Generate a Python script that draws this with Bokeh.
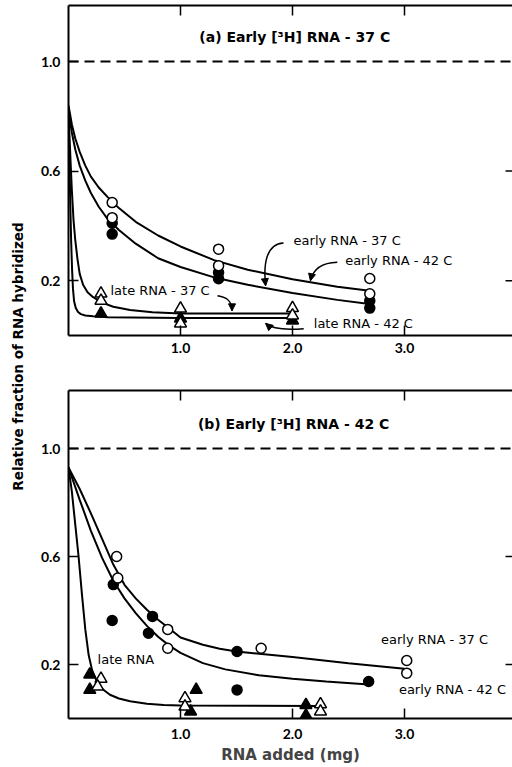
import math
from bokeh.plotting import figure
from bokeh.layouts import row, column
from bokeh.models import (Range1d, LinearAxis, FixedTicker, PrintfTickFormatter,
                          Span, Label, Arrow, NormalHead)
from bokeh.embed import file_html
from bokeh.resources import INLINE

TICK_FONT = "Lato"
FONT = "DejaVu Sans"

# ---------------- data: panel (a) ----------------
a_open_circle_x = [0.39, 0.39, 1.34, 1.34, 2.69, 2.69]
a_open_circle_y = [0.485, 0.43, 0.315, 0.255, 0.208, 0.152]
a_fill_circle_x = [0.39, 0.39, 1.34, 1.34, 2.69, 2.69]
a_fill_circle_y = [0.41, 0.37, 0.23, 0.207, 0.127, 0.10]
a_open_tri_x = [0.29, 0.29, 1.0, 1.0, 2.0, 2.0]
a_open_tri_y = [0.153, 0.127, 0.098, 0.044, 0.10, 0.073]
a_fill_tri_x = [0.29, 1.0, 2.0]
a_fill_tri_y = [0.08, 0.062, 0.055]

a_early37_x = [0.0, 0.03, 0.06, 0.1, 0.15, 0.2, 0.27, 0.35, 0.45, 0.6, 0.8, 1.0, 1.3, 1.6, 2.0, 2.4, 2.67]
a_early37_y = [0.84, 0.77, 0.72, 0.67, 0.62, 0.58, 0.54, 0.505, 0.465, 0.415, 0.365, 0.325, 0.275, 0.24, 0.205, 0.178, 0.164]
a_early42_x = [0.0, 0.03, 0.06, 0.1, 0.15, 0.2, 0.27, 0.35, 0.45, 0.6, 0.8, 1.0, 1.3, 1.6, 2.0, 2.4, 2.67]
a_early42_y = [0.82, 0.74, 0.68, 0.62, 0.565, 0.52, 0.47, 0.425, 0.385, 0.335, 0.282, 0.25, 0.212, 0.185, 0.155, 0.13, 0.116]
a_late37_x = [0.0, 0.01, 0.02, 0.03, 0.045, 0.06, 0.08, 0.1, 0.13, 0.17, 0.22, 0.3, 0.4, 0.55, 0.75, 1.0, 2.0]
a_late37_y = [0.80, 0.72, 0.62, 0.53, 0.42, 0.35, 0.28, 0.225, 0.185, 0.158, 0.14, 0.12, 0.105, 0.093, 0.085, 0.08, 0.08]
a_late42_x = [0.0, 0.008, 0.016, 0.024, 0.032, 0.04, 0.05, 0.065, 0.085, 0.11, 0.15, 0.22, 0.35, 1.0, 2.0]
a_late42_y = [0.78, 0.64, 0.48, 0.34, 0.24, 0.17, 0.125, 0.10, 0.086, 0.078, 0.073, 0.07, 0.067, 0.064, 0.064]

# ---------------- data: panel (b) ----------------
b_open_circle_x = [0.43, 0.44, 0.886, 0.886, 1.72, 3.02, 3.02]
b_open_circle_y = [0.60, 0.52, 0.33, 0.26, 0.26, 0.215, 0.168]
b_fill_circle_x = [0.40, 0.39, 0.75, 0.714, 1.505, 1.505, 2.68]
b_fill_circle_y = [0.496, 0.363, 0.378, 0.316, 0.248, 0.106, 0.137]
b_open_tri_x = [0.29, 0.26, 1.04, 1.04, 2.25, 2.25]
b_open_tri_y = [0.147, 0.118, 0.075, 0.044, 0.053, 0.026]
b_fill_tri_x = [0.19, 0.19, 1.14, 1.09, 2.12, 2.12]
b_fill_tri_y = [0.163, 0.106, 0.106, 0.026, 0.05, 0.011]

b_early37_x = [0.0, 0.1, 0.2, 0.3, 0.4, 0.5, 0.6, 0.7, 0.8, 0.9, 1.0, 1.2, 1.35, 1.5, 2.0, 2.5, 3.0]
b_early37_y = [0.93, 0.85, 0.76, 0.665, 0.57, 0.495, 0.445, 0.403, 0.366, 0.333, 0.30, 0.273, 0.258, 0.248, 0.228, 0.205, 0.184]
b_early42_x = [0.0, 0.1, 0.2, 0.3, 0.4, 0.5, 0.6, 0.7, 0.8, 0.9, 1.0, 1.2, 1.4, 1.7, 2.0, 2.3, 2.65]
b_early42_y = [0.93, 0.81, 0.695, 0.595, 0.51, 0.445, 0.39, 0.343, 0.303, 0.27, 0.243, 0.205, 0.182, 0.16, 0.147, 0.137, 0.127]
b_late_x = [0.0, 0.03, 0.06, 0.09, 0.12, 0.15, 0.18, 0.21, 0.25, 0.3, 0.37, 0.45, 0.55, 0.7, 0.85, 1.0, 2.26]
b_late_y = [0.93, 0.84, 0.72, 0.60, 0.46, 0.33, 0.235, 0.18, 0.14, 0.11, 0.088, 0.074, 0.064, 0.055, 0.05, 0.048, 0.046]

x_ticks = [1.0, 2.0, 3.0]
y_ticks = [0.2, 0.6, 1.0]
right_ticks = [0.2, 0.6]

# annotation texts / anchors (data units)
a_title = "(a) Early [\u00b3H] RNA - 37 C"
b_title = "(b) Early [\u00b3H] RNA - 42 C"
a_labels = [("early RNA - 37 C", 2.01, 0.347), ("early RNA - 42 C", 2.47, 0.274),
            ("late RNA - 37 C", 0.375, 0.164), ("late RNA - 42 C", 2.19, 0.044)]
b_labels = [("early RNA - 37 C", 2.79, 0.293), ("early RNA - 42 C", 2.95, 0.107),
            ("late RNA", 0.26, 0.219)]
# curved pointer arrows: start, control1, control2, tip
a_arrows = [((1.92, 0.338), (1.76, 0.335), (1.74, 0.255), (1.76, 0.182)),
            ((2.40, 0.267), (2.24, 0.265), (2.18, 0.235), (2.16, 0.20)),
            ((1.33, 0.145), (1.43, 0.14), (1.46, 0.12), (1.46, 0.09)),
            ((2.10, 0.025), (1.90, 0.018), (1.80, 0.03), (1.76, 0.044))]

PX_X = 112.0          # pixels per x unit (style constant)
XMAX = 444 / PX_X


def make_panel(height, frame_h, px_y, border_bottom, label_standoff, xlabel=None):
    ymax = frame_h / px_y
    p = figure(width=476, height=height, output_backend="svg", toolbar_location=None,
               x_range=Range1d(0, XMAX), y_range=Range1d(0, ymax),
               x_axis_location=None, y_axis_location=None,
               min_border_left=32, min_border_right=0, min_border_top=5,
               min_border_bottom=border_bottom)
    p.grid.visible = False
    p.outline_line_color = None
    p.background_fill_color = "white"

    def style(ax, ticks, tick_in=10):
        ax.ticker = FixedTicker(ticks=ticks)
        ax.formatter = PrintfTickFormatter(format="%.1f")
        ax.major_tick_out = 0
        ax.major_tick_in = tick_in
        ax.minor_tick_line_color = None
        ax.major_tick_line_color = "black"
        ax.major_tick_line_width = 1.5
        ax.axis_line_width = 2
        ax.axis_line_color = "black"
        ax.major_label_text_font = TICK_FONT
        ax.major_label_text_font_style = "bold"
        ax.major_label_text_font_size = "14px"
        ax.major_label_text_color = "black"

    left = LinearAxis()
    style(left, y_ticks)
    left.major_label_standoff = 8
    p.add_layout(left, "left")
    bottom = LinearAxis()
    style(bottom, x_ticks)
    bottom.major_label_standoff = label_standoff
    if xlabel:
        bottom.axis_label = xlabel
        bottom.axis_label_text_font = FONT
        bottom.axis_label_text_font_style = "bold"
        bottom.axis_label_text_font_size = "15px"
        bottom.axis_label_standoff = 4
    p.add_layout(bottom, "below")

    # top border line (no ticks/labels on the axis itself)
    top = LinearAxis(ticker=FixedTicker(ticks=[]), axis_line_width=2, axis_line_color="black",
                     major_tick_out=0, major_tick_in=0, minor_tick_out=0, minor_tick_in=0,
                     major_label_standoff=0)
    p.add_layout(top, "above")
    # inward tick marks along the top and right edges
    p.segment(x0=x_ticks, y0=[ymax] * len(x_ticks), x1=x_ticks,
              y1=[ymax - 10 / px_y] * len(x_ticks), line_color="black", line_width=1.5)
    p.segment(x0=[XMAX] * len(right_ticks), y0=right_ticks, x1=[XMAX - 7 / PX_X] * len(right_ticks),
              y1=right_ticks, line_color="black", line_width=1.5)

    p.add_layout(Span(location=1.0, dimension="width", line_color="black",
                      line_width=2, line_dash="10 6"))
    return p


def add_markers(p, ocx, ocy, fcx, fcy, otx, oty, ftx, fty):
    p.scatter(fcx, fcy, marker="circle", size=10, fill_color="black", line_color="black", line_width=1.5)
    p.scatter(ocx, ocy, marker="circle", size=10, fill_color="white", line_color="black", line_width=1.5)
    p.scatter(ftx, fty, marker="triangle", size=12, fill_color="black", line_color="black", line_width=1.5)
    p.scatter(otx, oty, marker="triangle", size=12, fill_color="white", line_color="black", line_width=1.5)


def add_text(p, txt, x, y, bold=False, size="13px", align="left"):
    p.add_layout(Label(x=x, y=y, text=txt, text_font=FONT, text_font_size=size,
                       text_font_style="bold" if bold else "normal",
                       text_align=align, text_baseline="middle", text_color="black"))


# ---------------- panel (a) ----------------
p1 = make_panel(385, 330, 274.0, 50, 7)
for xs, ys in [(a_early37_x, a_early37_y), (a_early42_x, a_early42_y),
               (a_late37_x, a_late37_y), (a_late42_x, a_late42_y)]:
    p1.line(xs, ys, line_color="black", line_width=2)
add_markers(p1, a_open_circle_x, a_open_circle_y, a_fill_circle_x, a_fill_circle_y,
            a_open_tri_x, a_open_tri_y, a_fill_tri_x, a_fill_tri_y)
add_text(p1, a_title, 2.02, 1.091, bold=True, size="14px", align="center")
for t, x, y in a_labels:
    add_text(p1, t, x, y)
for (s, c0, c1, e) in a_arrows:
    p1.bezier(x0=[s[0]], y0=[s[1]], x1=[e[0]], y1=[e[1]], cx0=[c0[0]], cy0=[c0[1]],
              cx1=[c1[0]], cy1=[c1[1]], line_color="black", line_width=1.5)
    p1.add_layout(Arrow(x_start=c1[0] + (e[0] - c1[0]) * 0.6, y_start=c1[1] + (e[1] - c1[1]) * 0.6,
                        x_end=e[0], y_end=e[1], line_alpha=0,
                        end=NormalHead(size=7, fill_color="black", line_color="black")))

# ---------------- panel (b) ----------------
p2 = make_panel(382, 328, 270.0, 49, 10, xlabel="RNA added (mg)")
for xs, ys in [(b_early37_x, b_early37_y), (b_early42_x, b_early42_y), (b_late_x, b_late_y)]:
    p2.line(xs, ys, line_color="black", line_width=2)
add_markers(p2, b_open_circle_x, b_open_circle_y, b_fill_circle_x, b_fill_circle_y,
            b_open_tri_x, b_open_tri_y, b_fill_tri_x, b_fill_tri_y)
add_text(p2, b_title, 2.01, 1.09, bold=True, size="14px", align="center")
for t, x, y in b_labels:
    add_text(p2, t, x, y)

# ---------------- shared y-axis title ----------------
lab = figure(width=36, height=767, output_backend="svg", toolbar_location=None,
             x_range=Range1d(0, 36), y_range=Range1d(0, 767),
             x_axis_location=None, y_axis_location=None, min_border=0)
lab.grid.visible = False
lab.outline_line_color = None
lab.add_layout(Label(x=17, y=411, text="Relative fraction of RNA hybridized", angle=math.pi / 2,
                     text_font=FONT, text_font_style="bold", text_font_size="13.5px",
                     text_align="center", text_baseline="middle", text_color="black"))

layout = row(lab, column(p1, p2))
open("out.html", "w").write(file_html(layout, INLINE))
